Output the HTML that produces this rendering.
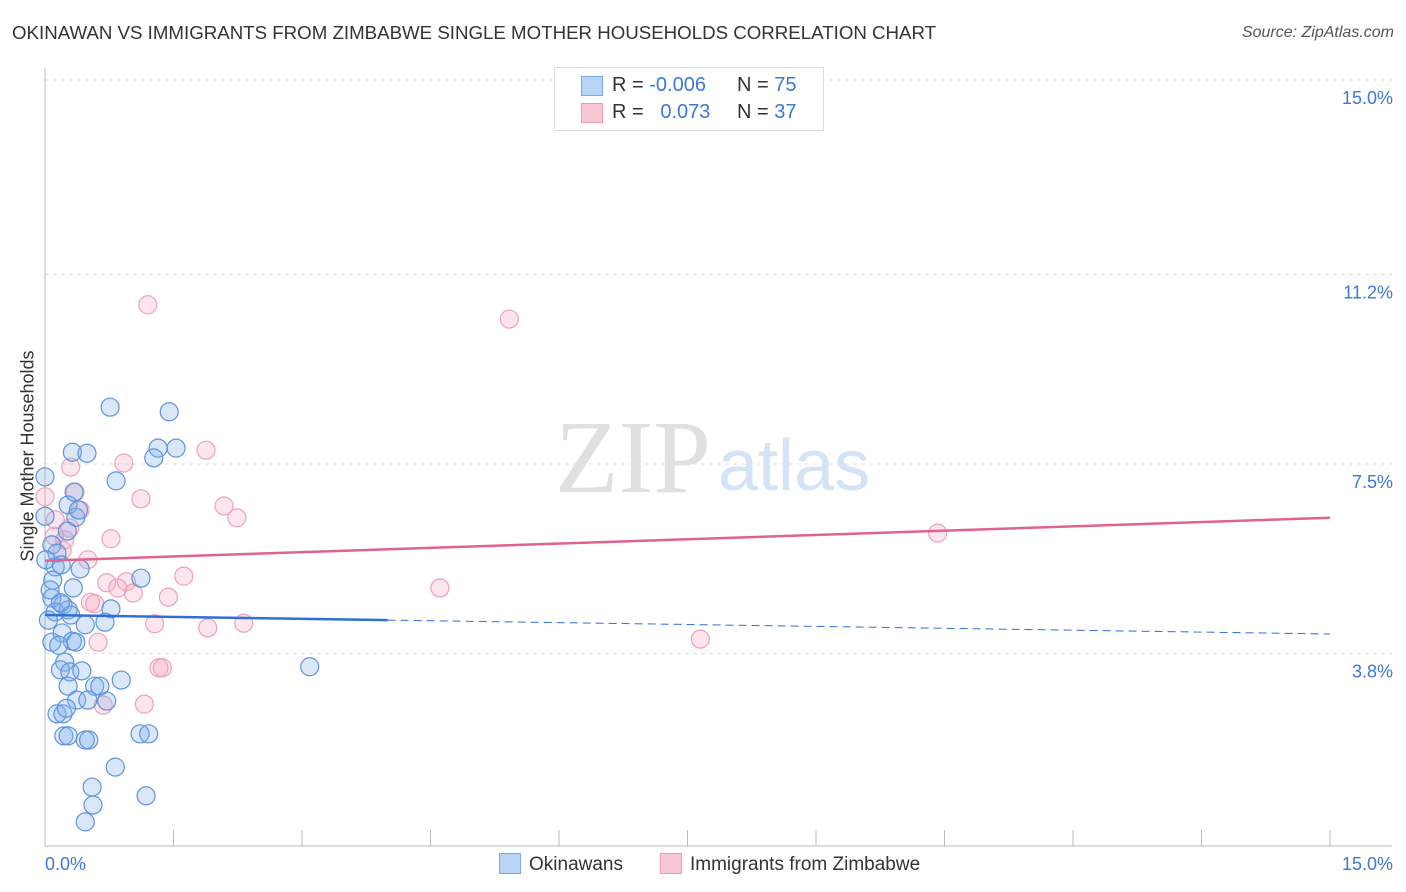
<!DOCTYPE html>
<html><head><meta charset="utf-8"><style>
body{margin:0;background:#fff;font-family:"Liberation Sans",sans-serif;}
#wrap{position:relative;width:1406px;height:892px;overflow:hidden;}
.t{position:absolute;white-space:nowrap;}
</style></head><body>
<div id="wrap">
<div class="t" style="left:12px;top:22px;font-size:18.7px;color:#333;">OKINAWAN VS IMMIGRANTS FROM ZIMBABWE SINGLE MOTHER HOUSEHOLDS CORRELATION CHART</div>
<div class="t" style="right:12px;top:24px;font-size:16px;color:#555;font-style:italic;">Source: ZipAtlas.com</div>
<div class="t" style="left:28px;top:456px;font-size:18px;color:#333;transform:translate(-50%,-50%) rotate(-90deg);">Single Mother Households</div>
<svg id="plot" width="1406" height="892" style="position:absolute;left:0;top:0"></svg>
<div style="position:absolute;left:554px;top:67px;width:268px;height:62px;border:1px solid #ddd;background:#fff;font-size:20px;">
 <div style="position:absolute;left:26px;top:8px;width:20px;height:18px;background:#b8d4f5;border:1px solid #7aa8e6;"></div>
 <div class="t" style="left:57px;top:6px;color:#333;">R = <span style="color:#3b78d8">-0.006</span></div>
 <div class="t" style="left:182px;top:6px;color:#333;">N = <span style="color:#3b78d8">75</span></div>
 <div style="position:absolute;left:26px;top:35px;width:20px;height:18px;background:#f9c6d4;border:1px solid #ec9bb4;"></div>
 <div class="t" style="left:57px;top:33px;color:#333;">R = <span style="color:#3b78d8">&nbsp;&nbsp;0.073</span></div>
 <div class="t" style="left:182px;top:33px;color:#333;">N = <span style="color:#3b78d8">37</span></div>
</div>
<div style="position:absolute;left:499px;top:853px;font-size:19px;color:#333;">
 <span style="display:inline-block;width:20px;height:19px;background:#b8d4f5;border:1px solid #7aa8e6;vertical-align:-4px;margin-right:8px;"></span>Okinawans</div>
<div style="position:absolute;left:660px;top:853px;font-size:19px;color:#333;">
 <span style="display:inline-block;width:20px;height:19px;background:#f9c6d4;border:1px solid #ec9bb4;vertical-align:-4px;margin-right:8px;"></span>Immigrants from Zimbabwe</div>
</div>
<script>
const yTicks=[15.0,11.2,7.5,3.8];
const yTickLabels=["15.0%","11.2%","7.5%","3.8%"];
const xTickLabels=["0.0%","15.0%"];
const blueX=[0.76,1.45,0.32,0.49,1.32,1.27,1.53,0.83,0,0.34,0.27,0.36,0,0.26,0.39,0.08,0.14,0.12,0.19,0.41,1.12,0.09,0.33,0.08,0.21,0.12,0.27,0.30,0.18,0.77,0.70,0.47,0.20,0.32,0.36,0.08,0.16,0.23,0.18,0.29,0.43,0.27,0.58,0.64,0.89,0.37,0.72,0.50,0.14,0.21,0.25,0.22,0.27,0.47,0.51,1.11,1.21,0.82,0.55,0.56,0.47,1.18,3.09,0.01,0.04,0.06];
const blueY=[8.61,8.52,7.73,7.71,7.81,7.62,7.81,7.17,7.25,6.95,6.70,6.46,6.48,6.19,6.60,5.92,5.76,5.49,5.53,5.45,5.27,5.23,5.08,4.88,4.75,4.61,4.65,4.55,4.79,4.67,4.41,4.36,4.20,4.04,4.02,4.02,3.96,3.63,3.48,3.44,3.46,3.16,3.16,3.16,3.28,2.89,2.87,2.89,2.62,2.62,2.73,2.19,2.19,2.11,2.11,2.23,2.23,1.58,1.19,0.84,0.51,1.02,3.54,5.63,4.45,5.04];
const pinkX=[1.20,5.42,0.30,0.35,0.41,0.92,1.12,1.88,2.09,2.24,0.77,0.50,0.23,0.20,0.11,0.72,0.95,0.85,1.03,1.62,1.44,1.28,0.53,0.58,0.62,1.90,2.32,0.68,1.16,1.33,1.37,4.61,7.65,10.42,0,0.12,0.29];
const pinkY=[10.61,10.33,7.44,6.95,6.60,7.52,6.82,7.77,6.68,6.45,6.04,5.63,6.02,5.82,6.09,5.18,5.20,5.08,4.98,5.31,4.90,4.38,4.80,4.77,4.02,4.30,4.39,2.79,2.81,3.52,3.52,5.08,4.08,6.15,6.86,6.41,6.25];
const blueTrend=[4.55,4.18];
const pinkTrend=[5.61,6.45];
const sx=v=>45+v/15*1285;
const sy=v=>80+(15-v)*51.2;
const svg=document.getElementById('plot');
const NS='http://www.w3.org/2000/svg';
function mk(tag,attrs){const e=document.createElementNS(NS,tag);for(const k in attrs)e.setAttribute(k,attrs[k]);svg.appendChild(e);return e;}
yTicks.forEach((v,i)=>{
 const g=mk('line',{x1:45,x2:1392,y1:sy(v),y2:sy(v),stroke:'#ddd','stroke-dasharray':'4,4'});
 
 
 const t=mk('text',{x:1393,y:sy(v)+24,'text-anchor':'end','font-size':18,fill:'#3b78d8','font-family':'Liberation Sans, sans-serif'});
 t.textContent=yTickLabels[i];
 
 
});
const ya=mk('line',{x1:45,x2:45,y1:68,y2:846,stroke:'#bbb'});


const xa=mk('line',{x1:45,x2:1392,y1:846,y2:846,stroke:'#bbb'});


for(let i=0;i<=10;i++){
 const tk=mk('line',{x1:sx(i*1.5),x2:sx(i*1.5),y1:830,y2:846,stroke:'#bbb'});
 
 
}
[[0,'start',45],[1,'end',1393]].forEach(([i,a,x])=>{
 const t=mk('text',{x:x,y:870,'text-anchor':a,'font-size':18,fill:'#3b78d8','font-family':'Liberation Sans, sans-serif'});
 t.textContent=xTickLabels[i];
 
 
});
const w1=mk('text',{x:555,y:492,'font-size':104,fill:'#e0e0e0','font-family':'Liberation Serif, serif'});
w1.textContent='ZIP';


const w2=mk('text',{x:718,y:490,'font-size':72,fill:'#d4e3f6','font-family':'Liberation Sans, sans-serif'});
w2.textContent='atlas';


pinkX.forEach((x,i)=>{
 const c=mk('circle',{cx:sx(x),cy:sy(pinkY[i]),r:9,fill:'rgba(244,160,188,0.28)',stroke:'#eca2bb','stroke-width':1.2});
 
 
});
blueX.forEach((x,i)=>{
 const c=mk('circle',{cx:sx(x),cy:sy(blueY[i]),r:9,fill:'rgba(130,176,235,0.3)',stroke:'#5d93dc','stroke-width':1.2});
 
 
});
const bAt=x=>blueTrend[0]+(blueTrend[1]-blueTrend[0])*x/15;
const b1=mk('line',{x1:sx(0),y1:sy(bAt(0)),x2:sx(4),y2:sy(bAt(4)),stroke:'#2f6fd6','stroke-width':2.5});


const b2=mk('line',{x1:sx(4),y1:sy(bAt(4)),x2:sx(15),y2:sy(bAt(15)),stroke:'#2f6fd6','stroke-width':1,'stroke-dasharray':'8,5'});


const p=mk('line',{x1:sx(0),y1:sy(pinkTrend[0]),x2:sx(15),y2:sy(pinkTrend[1]),stroke:'#e0628e','stroke-width':2.5});


</script>
</body></html>
